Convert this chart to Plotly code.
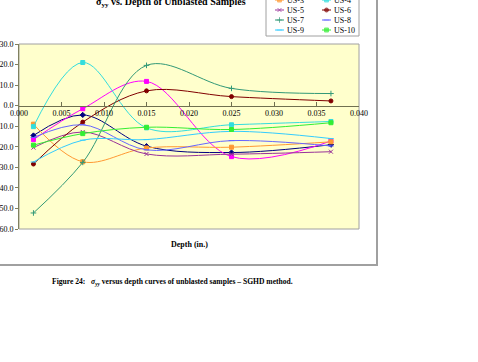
import plotly.graph_objects as go

# ---------------- data ----------------
depth = [0.0017, 0.0075, 0.015, 0.025, 0.0367]
series_names = ["US-1", "US-2", "US-3", "US-4", "US-5", "US-6", "US-7", "US-8", "US-9", "US-10"]
us1 = [-14.5, -4.5, -19.7, -22.8, -19.0]
us2 = [-16.5, -1.5, 11.8, -24.8, -17.2]
us3 = [-9.0, -27.3, -20.6, -20.2, -17.6]
us4 = [-10.2, 21.0, -10.8, -9.3, -7.7]
us5 = [-20.4, -12.8, -23.5, -23.6, -22.4]
us6 = [-28.4, -8.0, 7.2, 4.4, 2.3]
us7 = [-52.2, -27.6, 19.6, 8.4, 5.9]
us8 = [-15.5, -9.3, -21.5, -17.0, -19.6]
us9 = [-27.4, -16.8, -16.5, -12.5, -16.0]
us10 = [-19.2, -13.6, -10.5, -11.6, -8.3]
values = [us1, us2, us3, us4, us5, us6, us7, us8, us9, us10]

# ---------------- styles ----------------
colors = ["#000080", "#FF00FF", "#FF9933", "#33DDDD", "#993399",
          "#800000", "#339977", "#6666FF", "#33CCFF", "#33EE33"]
symbols = ["diamond", "square", "square", "square", "x-thin-open",
           "circle", "cross-thin-open", "line-ew-open", "line-ew-open", "square"]
FONT = "Liberation Serif, Times New Roman, serif"

W, H = 478, 362
ML, MR, MT, MB = 19, 119, 0, 133
PW, PH = W - ML - MR, H - MT - MB  # 340 x 229


def px_x(x):
    return (x - ML) / PW


def px_y(y):
    return (MT + PH - y) / PH


main_top = px_y(44)

fig = go.Figure()
for name, vals, col, sym in zip(series_names, values, colors, symbols):
    fig.add_trace(go.Scatter(
        x=depth, y=vals, name=name, mode="lines+markers",
        line=dict(color=col, width=1, shape="spline"),
        marker=dict(color=col, symbol=sym, size=4, line=dict(color=col, width=1)),
        showlegend=False, xaxis="x", yaxis="y"))

# custom legend drawn on an overlay axis (pixel-like units)
annotations = []
for i, (name, col, sym) in enumerate(zip(series_names, colors, symbols)):
    r, c = i // 2, i % 2
    yy = -10 + 10 * r
    x0 = 275 + 47 * c
    fig.add_trace(go.Scatter(
        x=[x0, x0 + 4.5, x0 + 9], y=[yy, yy, yy], mode="lines+markers",
        line=dict(color=col, width=1),
        marker=dict(color=col, symbol=sym, size=[0, 4, 0], line=dict(color=col, width=1)),
        showlegend=False, hoverinfo="skip", cliponaxis=False,
        xaxis="x2", yaxis="y2"))
    annotations.append(dict(x=x0 + 10, y=yy, xref="x2", yref="y2", text=name,
                            showarrow=False, xanchor="left", yanchor="middle",
                            font=dict(family=FONT, size=8, color="#000000")))

annotations += [
    dict(x=px_x(171), y=px_y(2), xref="paper", yref="paper",
         text="<b>σ<sub>yy</sub> vs. Depth of Unblasted Samples</b>",
         showarrow=False, xanchor="center", yanchor="middle",
         font=dict(family=FONT, size=10, color="#000000")),
    dict(x=px_x(189), y=px_y(244), xref="paper", yref="paper",
         text="<b>Depth (in.)</b>", showarrow=False, xanchor="center", yanchor="middle",
         font=dict(family=FONT, size=8, color="#000000")),
    dict(x=px_x(50), y=px_y(282), xref="paper", yref="paper",
         text="<b>Figure 24:   <i>σ<sub>yy</sub></i> versus depth curves of unblasted samples – SGHD method.</b>",
         showarrow=False, xanchor="left", yanchor="middle",
         font=dict(family=FONT, size=7.6, color="#000000")),
]

shapes = [
    # outer chart frame (left/top cut off by the page)
    dict(type="rect", xref="paper", yref="paper", x0=px_x(-20), x1=px_x(377),
         y0=px_y(265), y1=px_y(-20), line=dict(color="#A0A0A0", width=2),
         fillcolor="rgba(0,0,0,0)", layer="below"),
    # plot area
    dict(type="rect", xref="paper", yref="paper", x0=0, x1=1, y0=0, y1=main_top,
         line=dict(color="#A0A0A0", width=1), fillcolor="#FFFFCC", layer="below"),
    # legend box
    dict(type="rect", xref="paper", yref="paper", x0=px_x(266), x1=1,
         y0=px_y(36), y1=px_y(-20), line=dict(color="#A0A0A0", width=1),
         fillcolor="#FFFFFF", layer="below"),
]

zero_pos = main_top * (60 / 90)

fig.update_layout(
    width=W, height=H, margin=dict(l=ML, r=MR, t=MT, b=MB, pad=0),
    template="none", paper_bgcolor="#FFFFFF", plot_bgcolor="rgba(0,0,0,0)",
    showlegend=False, annotations=annotations, shapes=shapes,
    font=dict(family=FONT, size=8, color="#000000"),
    xaxis=dict(domain=[0, 1], range=[0, 0.04], dtick=0.005, tick0=0, tickformat=".3f",
               anchor="free", position=zero_pos, side="bottom",
               showline=True, linecolor="#707050", linewidth=1,
               ticks="inside", ticklen=4, tickcolor="#707050",
               showgrid=False, zeroline=False, automargin=False,
               tickfont=dict(family=FONT, size=8, color="#000000")),
    yaxis=dict(domain=[0, main_top], range=[-60, 30], dtick=10, tick0=0, tickformat=".1f",
               anchor="x", showline=True, linecolor="#808060", linewidth=1,
               ticks="outside", ticklen=3, tickcolor="#808060",
               showgrid=False, zeroline=False, automargin=False,
               tickfont=dict(family=FONT, size=8, color="#000000")),
    xaxis2=dict(domain=[px_x(266), 1], range=[266, 359], anchor="y2", visible=False,
                fixedrange=True),
    yaxis2=dict(domain=[px_y(36), 1], range=[36, 0], anchor="x2", visible=False,
                fixedrange=True),
)

fig.write_html("out.html")
